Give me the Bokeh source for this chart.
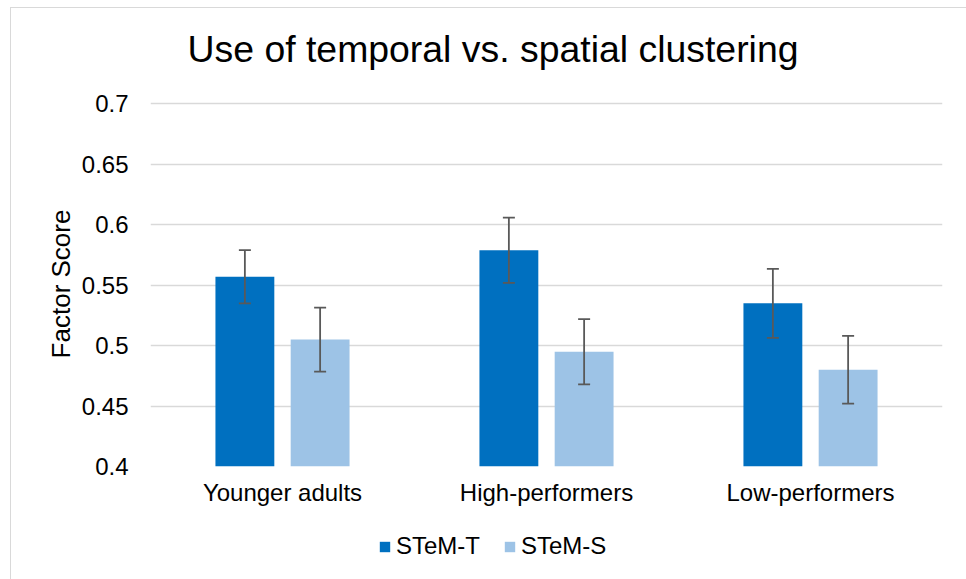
from bokeh.plotting import figure
from bokeh.layouts import column
from bokeh.models import (ColumnDataSource, Whisker, TeeHead, Legend, LegendItem, FactorRange,
                          FixedTicker, Range1d, Label)
from bokeh.transform import dodge
from bokeh.embed import file_html
from bokeh.resources import INLINE

categories = ["Younger adults", "High-performers", "Low-performers"]
stem_t = [0.557, 0.579, 0.535]
stem_t_err = [0.022, 0.027, 0.0285]
stem_s = [0.505, 0.495, 0.480]
stem_s_err = [0.0265, 0.027, 0.028]
series_names = ["STeM-T", "STeM-S"]
y_ticks = [0.4, 0.45, 0.5, 0.55, 0.6, 0.65, 0.7]
title_text = "Use of temporal vs. spatial clustering"
colors = ["#0070C0", "#9DC3E6"]

FONT = "Liberation Sans"

src_t = ColumnDataSource(dict(cat=categories, val=stem_t,
                              up=[v + e for v, e in zip(stem_t, stem_t_err)],
                              lo=[v - e for v, e in zip(stem_t, stem_t_err)]))
src_s = ColumnDataSource(dict(cat=categories, val=stem_s,
                              up=[v + e for v, e in zip(stem_s, stem_s_err)],
                              lo=[v - e for v, e in zip(stem_s, stem_s_err)]))

W = 955


def blank(height):
    f = figure(width=W, height=height, output_backend="svg", toolbar_location=None,
               x_range=Range1d(0, 1), y_range=Range1d(0, 1),
               min_border_left=139, min_border_right=24, min_border_top=0, min_border_bottom=0)
    f.axis.visible = False
    f.grid.visible = False
    f.outline_line_color = None
    return f


# title strip
pt = blank(73)
pt.add_layout(Label(x=37, y=33, x_units="screen", y_units="screen", text=title_text,
                    text_font=FONT, text_font_size="37.4px", text_color="#000000",
                    text_baseline="alphabetic", text_align="left"))

# main chart
p = figure(x_range=FactorRange(*categories), y_range=Range1d(0.4, 0.702),
           width=W, height=439, output_backend="svg", toolbar_location=None,
           min_border_left=139, min_border_right=24, min_border_bottom=54, min_border_top=20)
p.x_range.range_padding = 0
p.outline_line_color = None

off = 0.1425
w = 0.223
p.vbar(x=dodge("cat", -off, range=p.x_range), top="val", bottom=0.4, width=w,
       source=src_t, fill_color=colors[0], line_color=None)
p.vbar(x=dodge("cat", off, range=p.x_range), top="val", bottom=0.4, width=w,
       source=src_s, fill_color=colors[1], line_color=None)

for src, d in ((src_t, -off), (src_s, off)):
    wk = Whisker(base=dodge("cat", d, range=p.x_range), upper="up", lower="lo", source=src,
                 line_color="#595959", line_width=1.8, level="overlay",
                 upper_head=TeeHead(size=12, line_color="#595959", line_width=1.8),
                 lower_head=TeeHead(size=12, line_color="#595959", line_width=1.8))
    p.add_layout(wk)

p.yaxis.ticker = FixedTicker(ticks=y_ticks)
p.ygrid.grid_line_color = "#d9d9d9"
p.ygrid.grid_line_width = 1.6
p.xgrid.grid_line_color = None

for ax in (p.xaxis, p.yaxis):
    ax.axis_line_color = None
    ax.major_tick_line_color = None
    ax.minor_tick_line_color = None
    ax.major_tick_in = 0
    ax.major_tick_out = 0
    ax.major_label_text_font = FONT
    ax.major_label_text_font_size = "24px"
    ax.major_label_text_color = "#000000"

p.yaxis.major_label_standoff = 22
p.xaxis.major_label_standoff = 12
p.yaxis.axis_label = "Factor Score"
p.yaxis.axis_label_text_font = FONT
p.yaxis.axis_label_text_font_size = "26px"
p.yaxis.axis_label_text_font_style = "normal"
p.yaxis.axis_label_text_color = "#000000"
p.yaxis.axis_label_standoff = 3

# legend strip below the chart
pl = blank(59)
lt = pl.vbar(x="val", top="val", bottom="val", width=0, source=src_t,
             fill_color=colors[0], line_color=None)
ls = pl.vbar(x="val", top="val", bottom="val", width=0, source=src_s,
             fill_color=colors[1], line_color=None)
legend = Legend(items=[LegendItem(label=series_names[0], renderers=[lt]),
                       LegendItem(label=series_names[1], renderers=[ls])],
                orientation="horizontal", location=(228, 19),
                glyph_width=13, glyph_height=13, label_standoff=5, spacing=23,
                padding=0, margin=0, border_line_color=None, background_fill_alpha=0,
                label_text_font=FONT, label_text_font_size="24px", label_text_color="#000000")
pl.add_layout(legend)

layout = column(pt, p, pl, spacing=0, margin=(7, 0, 0, 10))
layout.styles = {"border-left": "1px solid #d9d9d9", "border-top": "1px solid #d9d9d9"}

open("out.html", "w").write(file_html(layout, INLINE))
